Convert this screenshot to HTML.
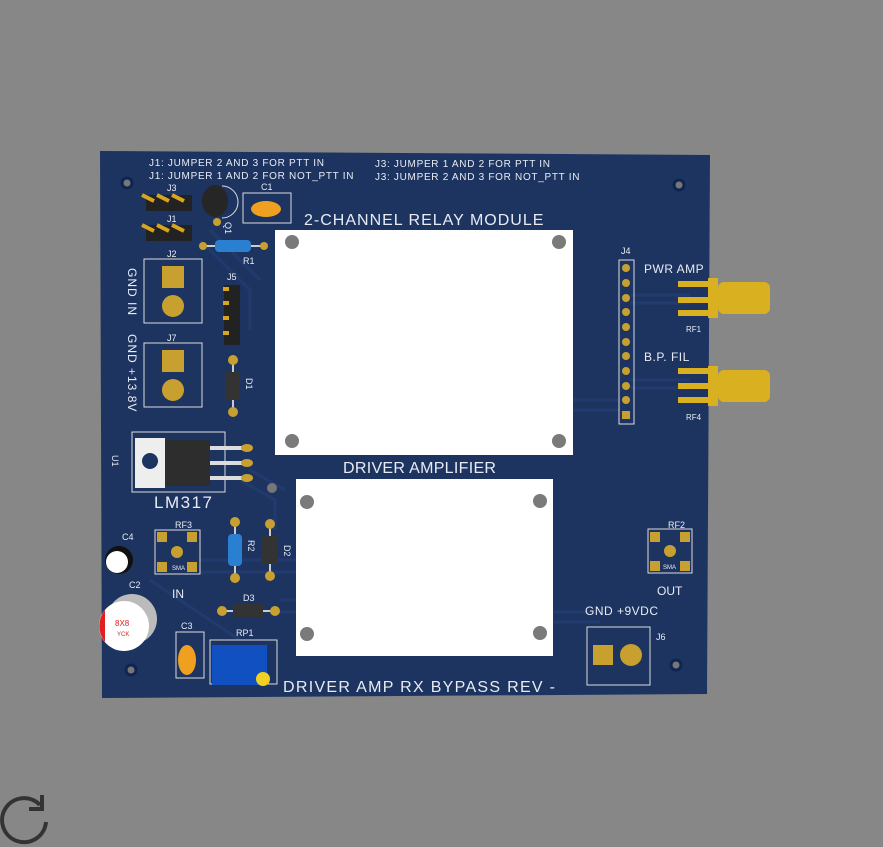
<!DOCTYPE html>
<html><head><meta charset="utf-8"><style>
html,body{margin:0;padding:0;background:#878787;width:883px;height:847px;overflow:hidden}
svg text{font-family:"Liberation Sans",sans-serif;fill:#e8ecf2}
</style></head><body>
<svg width="883" height="847" viewBox="0 0 883 847" xmlns="http://www.w3.org/2000/svg">
<rect width="883" height="847" fill="#878787"/>
<polygon points="100,151 710,155 707,694 102,698" fill="#1d3461"/>
<g stroke="#223b6e" stroke-width="3" fill="none">
<path d="M630,295 H690 M630,303 H690 M630,380 H690 M630,388 H690"/>
<path d="M573,400 H620 M573,410 H620"/>
<path d="M200,560 H296 M200,572 H296 M150,580 L240,640 M280,600 H296 M280,612 H296"/>
<path d="M553,612 H600 M553,622 H600"/>
<path d="M240,480 L275,500 V530 M250,470 L285,490"/>
<path d="M200,240 L250,290 V330 M210,230 L260,280"/>
</g>
<g fill="#777" stroke="#0f2550" stroke-width="3">
<circle cx="127" cy="183" r="5"/><circle cx="679" cy="185" r="5"/>
<circle cx="676" cy="665" r="5"/><circle cx="131" cy="670" r="5"/>
</g>
<text x="149" y="166" font-size="10" letter-spacing="0.7">J1: JUMPER 2 AND 3 FOR PTT IN</text>
<text x="149" y="179" font-size="10" letter-spacing="0.7">J1: JUMPER 1 AND 2 FOR NOT_PTT IN</text>
<text x="375" y="167" font-size="10" letter-spacing="0.7">J3: JUMPER 1 AND 2 FOR PTT IN</text>
<text x="375" y="180" font-size="10" letter-spacing="0.7">J3: JUMPER 2 AND 3 FOR NOT_PTT IN</text>
<text x="304" y="225" font-size="16" letter-spacing="1">2-CHANNEL RELAY MODULE</text>
<text x="343" y="473" font-size="16" letter-spacing="0.3">DRIVER AMPLIFIER</text>
<text x="283" y="692" font-size="16" letter-spacing="1.3">DRIVER AMP RX BYPASS REV -</text>
<rect x="275" y="230" width="298" height="225" fill="#fff"/>
<rect x="296" y="479" width="257" height="177" fill="#fff"/>
<g fill="#7a7a7a">
<circle cx="292" cy="242" r="7"/><circle cx="559" cy="242" r="7"/>
<circle cx="292" cy="441" r="7"/><circle cx="559" cy="441" r="7"/>
<circle cx="307" cy="502" r="7"/><circle cx="540" cy="501" r="7"/>
<circle cx="307" cy="634" r="7"/><circle cx="540" cy="633" r="7"/>
</g>
<g>
<rect x="146" y="195" width="46" height="16" fill="#222"/>
<rect x="146" y="225" width="46" height="16" fill="#222"/>
<path d="M142,195 l12,6 M157,195 l12,6 M172,195 l12,6 M142,225 l12,6 M157,225 l12,6 M172,225 l12,6" stroke="#d9a520" stroke-width="4"/>
<text x="167" y="191" font-size="9">J3</text><text x="167" y="222" font-size="9">J1</text>
</g>
<ellipse cx="215" cy="201" rx="13" ry="16" fill="#262626"/>
<path d="M222,186 A16,16 0 0,1 222,218" fill="none" stroke="#ddd" stroke-width="1"/>
<circle cx="217" cy="222" r="4" fill="#c8a030"/>
<text x="225" y="222" font-size="9" transform="rotate(90 225 222)">Q1</text>
<rect x="243" y="193" width="48" height="30" fill="none" stroke="#ddd" stroke-width="1"/>
<ellipse cx="266" cy="209" rx="15" ry="8" fill="#f0a020"/>
<text x="261" y="190" font-size="9">C1</text>
<line x1="203" y1="246" x2="264" y2="246" stroke="#ccc" stroke-width="2"/>
<circle cx="203" cy="246" r="4" fill="#c8a030"/><circle cx="264" cy="246" r="4" fill="#c8a030"/>
<rect x="215" y="240" width="36" height="12" rx="4" fill="#2b7fd0"/>
<text x="243" y="264" font-size="9">R1</text>
<rect x="144" y="259" width="58" height="64" fill="none" stroke="#ddd"/>
<rect x="144" y="343" width="58" height="64" fill="none" stroke="#ddd"/>
<rect x="162" y="266" width="22" height="22" fill="#c8a030"/><circle cx="173" cy="306" r="11" fill="#c8a030"/>
<rect x="162" y="350" width="22" height="22" fill="#c8a030"/><circle cx="173" cy="390" r="11" fill="#c8a030"/>
<text x="167" y="257" font-size="9">J2</text><text x="167" y="341" font-size="9">J7</text>
<text x="128" y="268" font-size="12" letter-spacing="1" transform="rotate(90 128 268)">GND  IN</text>
<text x="128" y="334" font-size="12" letter-spacing="1" transform="rotate(90 128 334)">GND  +13.8V</text>
<rect x="224" y="285" width="16" height="60" fill="#222"/>
<g fill="#d9a520"><rect x="223" y="287" width="6" height="4"/><rect x="223" y="301" width="6" height="4"/><rect x="223" y="316" width="6" height="4"/><rect x="223" y="331" width="6" height="4"/></g>
<text x="227" y="280" font-size="9">J5</text>
<line x1="233" y1="360" x2="233" y2="412" stroke="#ccc" stroke-width="2"/>
<circle cx="233" cy="360" r="5" fill="#c8a030"/><circle cx="233" cy="412" r="5" fill="#c8a030"/>
<rect x="225" y="372" width="15" height="28" fill="#333"/>
<text x="246" y="378" font-size="9" transform="rotate(90 246 378)">D1</text>
<rect x="132" y="432" width="93" height="60" fill="none" stroke="#ddd"/>
<rect x="135" y="438" width="30" height="50" fill="#eee"/>
<circle cx="150" cy="461" r="8" fill="#1d3461"/>
<rect x="165" y="440" width="45" height="46" fill="#2d2d2d"/>
<path d="M210,448 H245 M210,463 H245 M210,478 H245" stroke="#ddd" stroke-width="4"/>
<g fill="#c8a030"><ellipse cx="247" cy="448" rx="6" ry="4"/><ellipse cx="247" cy="463" rx="6" ry="4"/><ellipse cx="247" cy="478" rx="6" ry="4"/></g>
<circle cx="272" cy="488" r="5" fill="#777"/>
<text x="112" y="455" font-size="9" transform="rotate(90 112 455)">U1</text>
<text x="154" y="508" font-size="17" letter-spacing="1.5">LM317</text>
<rect x="155" y="530" width="45" height="44" fill="none" stroke="#ddd"/>
<g fill="#c8a030"><rect x="157" y="532" width="10" height="10"/><rect x="187" y="532" width="10" height="10"/><rect x="157" y="562" width="10" height="10"/><rect x="187" y="562" width="10" height="10"/><circle cx="177" cy="552" r="6"/></g>
<text x="175" y="528" font-size="9">RF3</text><text x="172" y="570" font-size="6">SMA</text>
<text x="172" y="598" font-size="12">IN</text>
<line x1="235" y1="522" x2="235" y2="578" stroke="#ccc" stroke-width="2"/>
<circle cx="235" cy="522" r="5" fill="#c8a030"/><circle cx="235" cy="578" r="5" fill="#c8a030"/>
<rect x="228" y="534" width="14" height="32" rx="4" fill="#2b7fd0"/>
<text x="248" y="540" font-size="9" transform="rotate(90 248 540)">R2</text>
<line x1="270" y1="524" x2="270" y2="576" stroke="#ccc" stroke-width="2"/>
<circle cx="270" cy="524" r="5" fill="#c8a030"/><circle cx="270" cy="576" r="5" fill="#c8a030"/>
<rect x="262" y="536" width="16" height="28" fill="#333"/>
<text x="284" y="545" font-size="9" transform="rotate(90 284 545)">D2</text>
<line x1="222" y1="611" x2="275" y2="611" stroke="#ccc" stroke-width="2"/>
<circle cx="222" cy="611" r="5" fill="#c8a030"/><circle cx="275" cy="611" r="5" fill="#c8a030"/>
<rect x="233" y="604" width="30" height="14" fill="#333"/>
<text x="243" y="601" font-size="9">D3</text>
<circle cx="119" cy="560" r="14" fill="#111"/><circle cx="117" cy="562" r="11" fill="#fff"/>
<text x="122" y="540" font-size="9">C4</text>
<circle cx="132" cy="619" r="25" fill="#bbb"/><circle cx="124" cy="626" r="25" fill="#fff"/>
<path d="M105,610 A25,25 0 0,0 105,642 Z" fill="#e02020"/>
<text x="115" y="626" font-size="8" style="fill:#e02020">8X8</text>
<text x="117" y="636" font-size="6" style="fill:#e02020">YCK</text>
<text x="129" y="588" font-size="9">C2</text>
<rect x="176" y="632" width="28" height="46" fill="none" stroke="#ddd"/>
<ellipse cx="187" cy="660" rx="9" ry="15" fill="#f0a020"/>
<text x="181" y="629" font-size="9">C3</text>
<rect x="210" y="640" width="67" height="44" fill="none" stroke="#ddd"/>
<rect x="212" y="645" width="55" height="40" fill="#1050c0"/>
<circle cx="263" cy="679" r="7" fill="#f0d020"/>
<text x="236" y="636" font-size="9">RP1</text>
<rect x="619" y="260" width="15" height="164" fill="none" stroke="#ddd"/>
<g fill="#c8a030">
<circle cx="626" cy="268" r="4"/><circle cx="626" cy="283" r="4"/><circle cx="626" cy="298" r="4"/><circle cx="626" cy="312" r="4"/><circle cx="626" cy="327" r="4"/><circle cx="626" cy="342" r="4"/><circle cx="626" cy="356" r="4"/><circle cx="626" cy="371" r="4"/><circle cx="626" cy="386" r="4"/><circle cx="626" cy="400" r="4"/><rect x="622" y="411" width="8" height="8"/>
</g>
<text x="621" y="254" font-size="9">J4</text>
<text x="644" y="273" font-size="12" letter-spacing="0.5">PWR AMP</text>
<text x="644" y="361" font-size="12" letter-spacing="0.5">B.P. FIL</text>
<g fill="#d9b020">
<rect x="678" y="281" width="40" height="6"/><rect x="678" y="297" width="40" height="6"/><rect x="678" y="310" width="40" height="6"/>
<rect x="708" y="278" width="10" height="40"/><rect x="718" y="282" width="52" height="32" rx="6"/>
<rect x="678" y="368" width="40" height="6"/><rect x="678" y="383" width="40" height="6"/><rect x="678" y="397" width="40" height="6"/>
<rect x="708" y="366" width="10" height="40"/><rect x="718" y="370" width="52" height="32" rx="6"/>
</g>
<text x="686" y="332" font-size="8">RF1</text><text x="686" y="420" font-size="8">RF4</text>
<rect x="648" y="529" width="44" height="44" fill="none" stroke="#ddd"/>
<g fill="#c8a030"><rect x="650" y="532" width="10" height="10"/><rect x="680" y="532" width="10" height="10"/><rect x="650" y="561" width="10" height="10"/><rect x="680" y="561" width="10" height="10"/><circle cx="670" cy="551" r="6"/></g>
<text x="668" y="528" font-size="9">RF2</text><text x="663" y="569" font-size="6">SMA</text>
<text x="657" y="595" font-size="12">OUT</text>
<text x="585" y="615" font-size="12" letter-spacing="0.5">GND  +9VDC</text>
<rect x="587" y="627" width="63" height="58" fill="none" stroke="#ddd"/>
<rect x="593" y="645" width="20" height="20" fill="#c8a030"/><circle cx="631" cy="655" r="11" fill="#c8a030"/>
<text x="656" y="640" font-size="9">J6</text>
<path d="M46,822 A22,22 0 1,1 40,805" fill="none" stroke="#333" stroke-width="4"/>
<path d="M42,795 V809 H29" fill="none" stroke="#333" stroke-width="4"/>
</svg>
</body></html>
